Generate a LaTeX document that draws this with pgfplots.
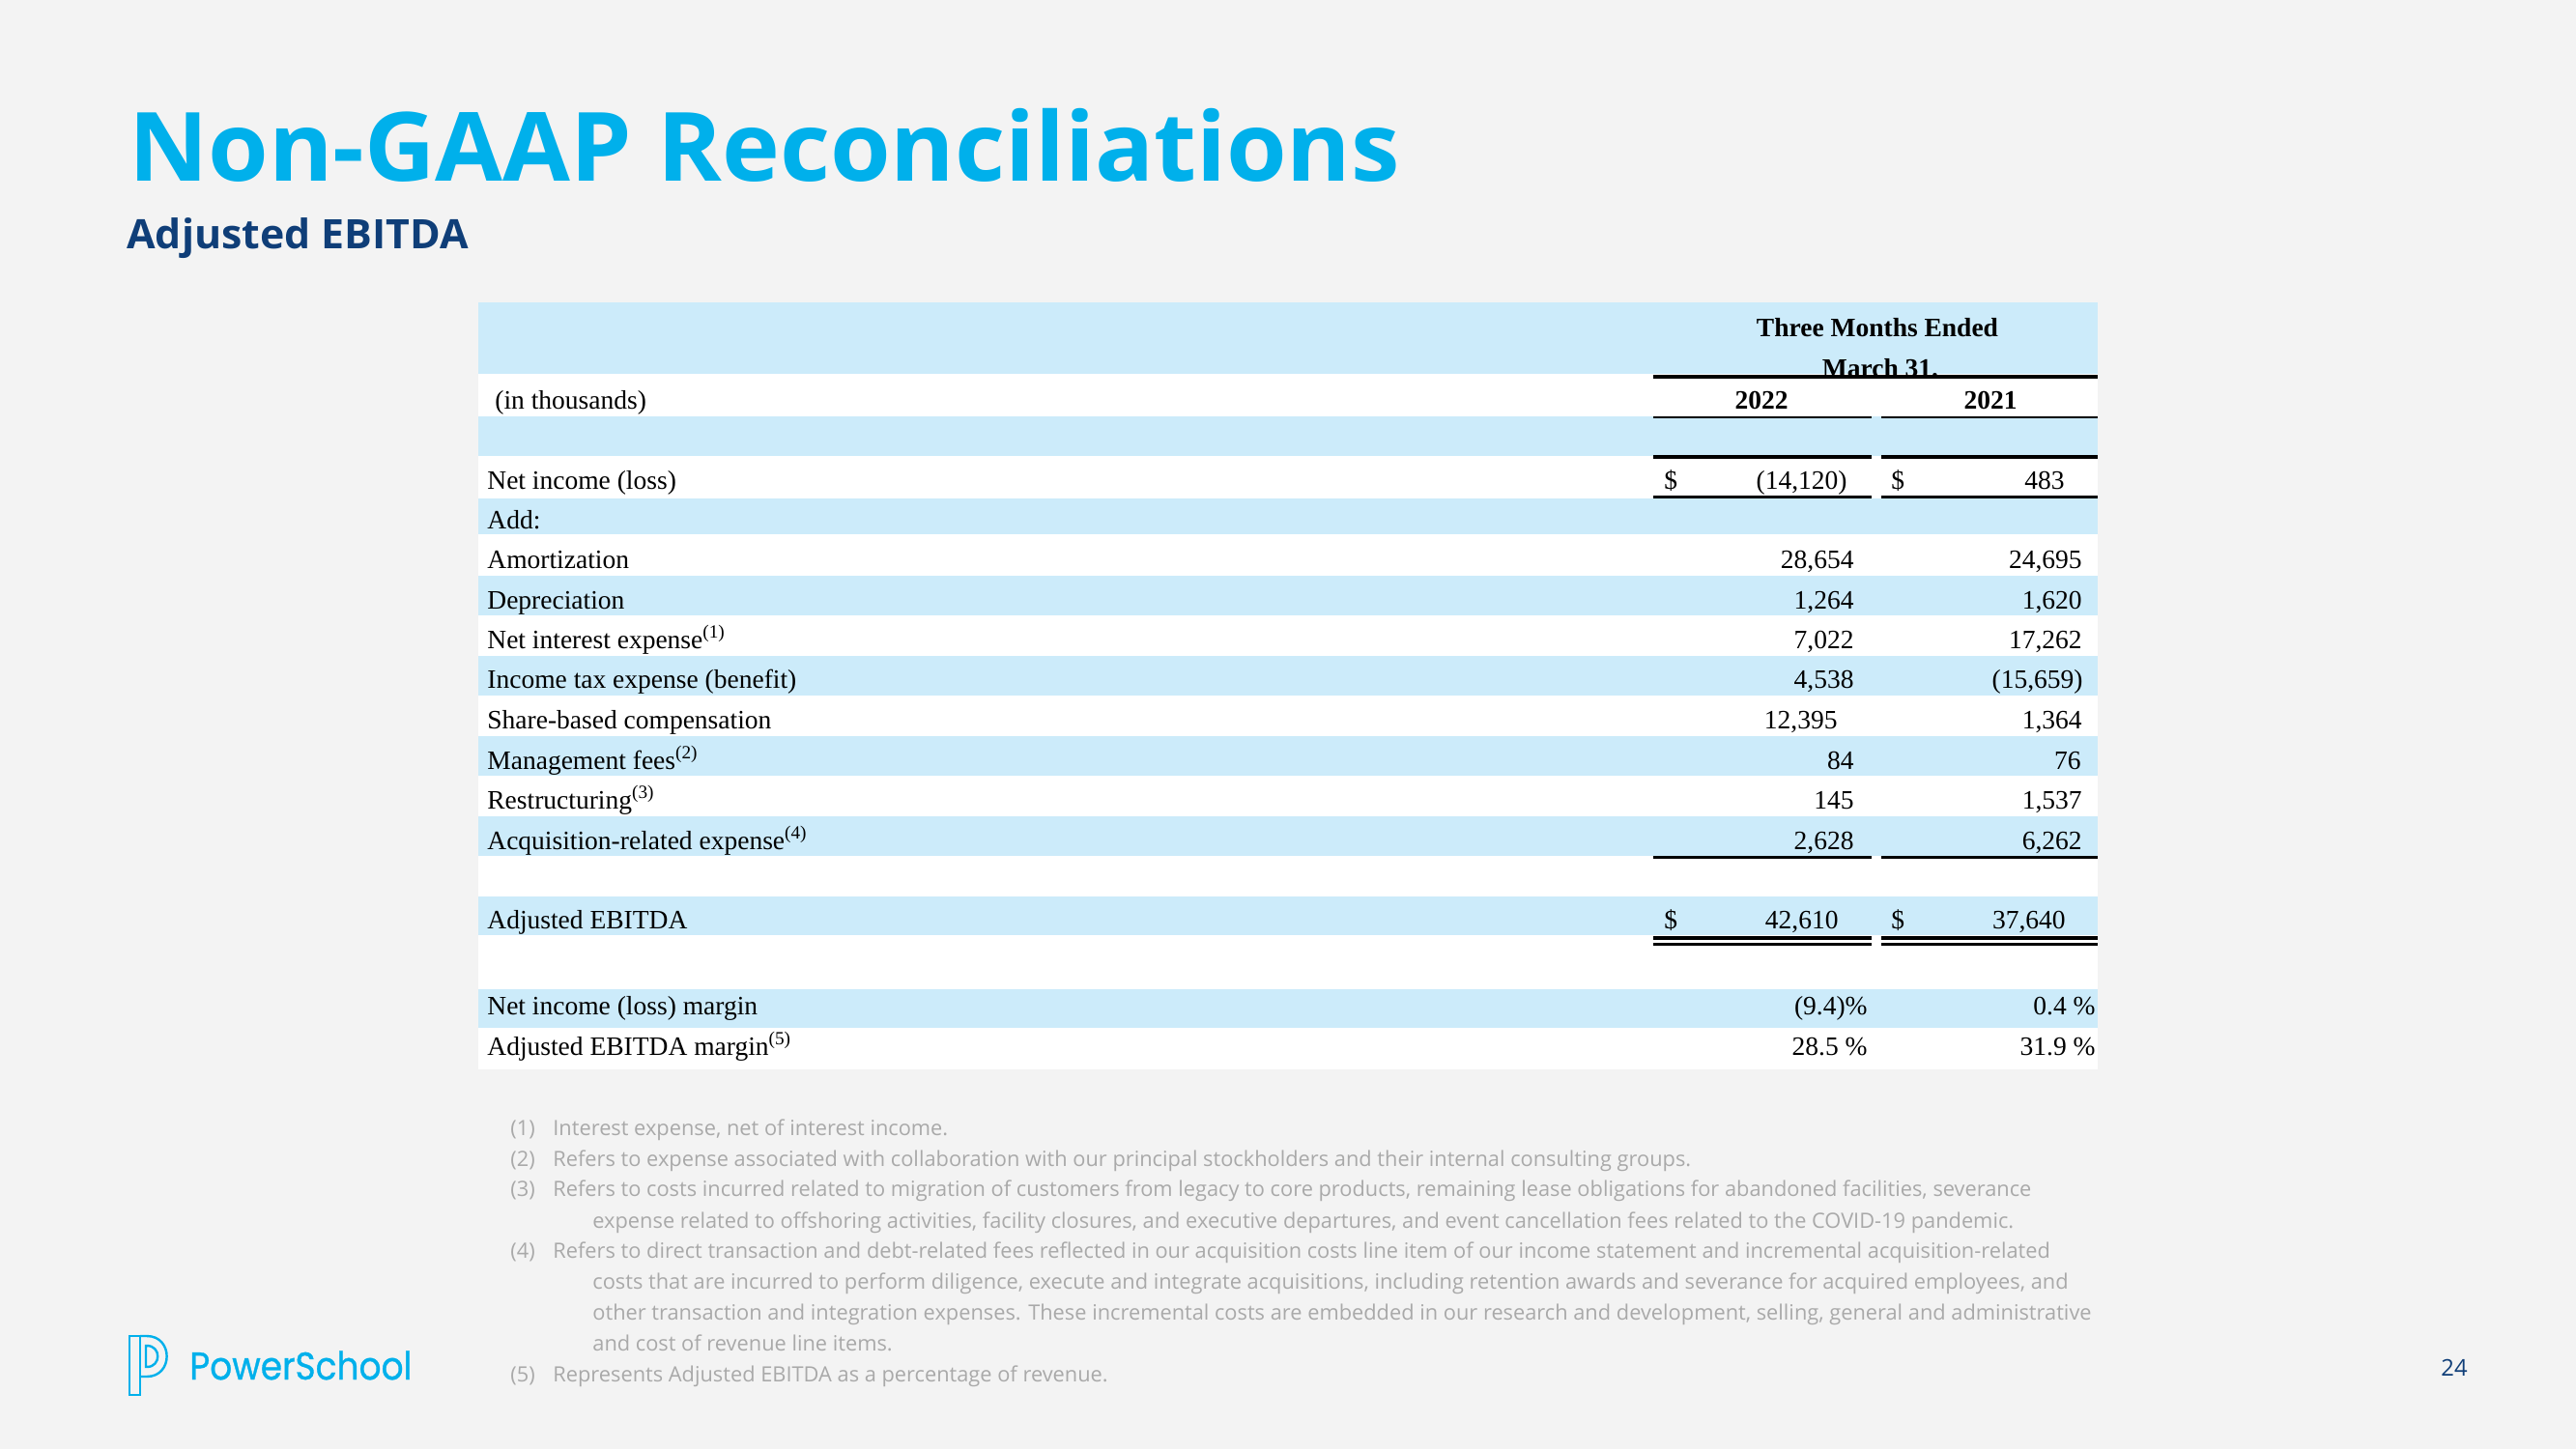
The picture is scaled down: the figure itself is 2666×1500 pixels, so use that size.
\documentclass[border=0pt]{standalone}
\usepackage{pgfplots}
\pgfplotsset{compat=1.18}
\usepackage{fontspec}
\setmainfont{Liberation Serif}
\newfontfamily\osans{Open Sans}
\newfontfamily\popp{Poppins}[FakeBold=0.8]
\definecolor{bg}{HTML}{F3F3F3}
\definecolor{band}{HTML}{CCEBFA}
\definecolor{cyanT}{HTML}{00B0EB}
\definecolor{navy}{HTML}{0F3E78}
\definecolor{fgrey}{HTML}{A9A9A9}
\newcommand{\tabfont}{\fontsize{13.75}{16}\selectfont}
\newcommand{\fnfont}{\osans\fontsize{10.9}{12}\selectfont}
\begin{document}
\begin{tikzpicture}
\begin{axis}[
  width=1333pt, height=750pt, scale only axis,
  xmin=0, xmax=2666, ymin=0, ymax=1500, y dir=reverse,
  hide axis, clip=false]
% background
\fill[bg] (0,0) rectangle (2666,1500);
% table white base
\fill[white] (495,313) rectangle (2171,1107);
% blue bands
\fill[band] (495,313) rectangle (2171,387);
\fill[band] (495,431) rectangle (2171,472);
\fill[band] (495,516) rectangle (2171,553);
\fill[band] (495,596) rectangle (2171,637);
\fill[band] (495,679) rectangle (2171,720);
\fill[band] (495,762) rectangle (2171,803);
\fill[band] (495,845) rectangle (2171,886);
\fill[band] (495,928) rectangle (2171,968);
\fill[band] (495,1024) rectangle (2171,1064);
% title
\node[anchor=base west, inner sep=0pt, xscale=1.023, text=cyanT, font=\osans\bfseries\fontsize{49.5}{50}\selectfont] at (133,187) {Non-GAAP Reconciliations};
\node[anchor=base west, inner sep=0pt, xscale=1.02, text=navy, font=\osans\bfseries\fontsize{21}{22}\selectfont] at (131,257) {Adjusted EBITDA};
% header
\node[anchor=base, inner sep=0pt, font=\tabfont\bfseries] at (1943,348) {Three Months Ended};
\node[anchor=base, inner sep=0pt, font=\tabfont\bfseries] at (1946,390) {March 31.};
\node[anchor=base, inner sep=0pt, font=\tabfont\bfseries] at (1823,423) {2022};
\node[anchor=base, inner sep=0pt, font=\tabfont\bfseries] at (2060,423) {2021};
\node[anchor=base west, inner sep=0pt, font=\tabfont] at (512,423) {(in thousands)};
% rules
\draw[line width=2pt] (1711,390) -- (2171,390);
\draw[line width=1.25pt] (1711,432) -- (1937,432) (1947,432) -- (2171,432);
\draw[line width=1.6pt] (1711,473) -- (1937,473) (1947,473) -- (2171,473);
\draw[line width=1.5pt] (1711,514.5) -- (1937,514.5) (1947,514.5) -- (2171,514.5);
\draw[line width=1.5pt] (1711,887.5) -- (1937,887.5) (1947,887.5) -- (2171,887.5);
\draw[line width=1.6pt] (1711,971) -- (1937,971) (1947,971) -- (2171,971);
\draw[line width=1.4pt] (1711,977.5) -- (1937,977.5) (1947,977.5) -- (2171,977.5);
% row labels
\begin{scope}[every node/.style={anchor=base west, inner sep=0pt, font=\tabfont}]
\node at (504,506) {Net income (loss)};
\node at (504,547) {Add:};
\node at (504,588) {Amortization};
\node at (504,630) {Depreciation};
\node at (504,671) {Net interest expense\textsuperscript{(1)}};
\node at (504,712) {Income tax expense (benefit)};
\node at (504,754) {Share-based compensation};
\node at (504,796) {Management fees\textsuperscript{(2)}};
\node at (504,837) {Restructuring\textsuperscript{(3)}};
\node at (504,879) {Acquisition-related expense\textsuperscript{(4)}};
\node at (504,961) {Adjusted EBITDA};
\node at (504,1050) {Net income (loss) margin};
\node at (504,1092) {Adjusted EBITDA margin\textsuperscript{(5)}};
\end{scope}
% values 2022
\addplot[draw=none, nodes near coords, point meta=explicit symbolic,
  every node near coord/.append style={anchor=base east, inner sep=0pt, font=\tabfont}]
  table[x=x, y=y, meta=v] {
x y v
1912 506 (14,120)
1919 588 28,654
1919 630 1,264
1919 671 7,022
1919 712 4,538
1902 754 12,395
1919 796 84
1919 837 145
1919 879 2,628
1903 961 42,610
1933 1050 (9.4)\%
1933 1092 {28.5 \%}
};
% values 2021
\addplot[draw=none, nodes near coords, point meta=explicit symbolic,
  every node near coord/.append style={anchor=base east, inner sep=0pt, font=\tabfont}]
  table[x=x, y=y, meta=v] {
x y v
2137 506 483
2155 588 24,695
2155 630 1,620
2155 671 17,262
2156 712 (15,659)
2155 754 1,364
2154 796 76
2155 837 1,537
2155 879 6,262
2138 961 37,640
2169 1050 {0.4 \%}
2169 1092 {31.9 \%}
};
% dollar signs
\addplot[draw=none, nodes near coords, point meta=explicit symbolic,
  every node near coord/.append style={anchor=base west, inner sep=0pt, font=\tabfont}]
  table[x=x, y=y, meta=v] {
x y v
1722 506 \$
1957 506 \$
1722 961 \$
1957 961 \$
};
% footnotes
\begin{scope}[every node/.style={anchor=base west, inner sep=0pt, text=fgrey, font=\fnfont}]
\node at (528,1175) {(1)};
\node at (572,1175) {Interest expense, net of interest income.};
\node at (528,1207) {(2)};
\node at (572,1207) {Refers to expense associated with collaboration with our principal stockholders and their internal consulting groups.};
\node at (528,1238) {(3)};
\node at (572,1238) {Refers to costs incurred related to migration of customers from legacy to core products, remaining lease obligations for abandoned facilities, severance};
\node at (613,1271) {expense related to offshoring activities, facility closures, and executive departures, and event cancellation fees related to the COVID-19 pandemic.};
\node at (528,1302) {(4)};
\node at (572,1302) {Refers to direct transaction and debt-related fees reflected in our acquisition costs line item of our income statement and incremental acquisition-related};
\node at (613,1334) {costs that are incurred to perform diligence, execute and integrate acquisitions, including retention awards and severance for acquired employees, and};
\node at (613,1366) {other transaction and integration expenses. These incremental costs are embedded in our research and development, selling, general and administrative};
\node at (613,1398) {and cost of revenue line items.};
\node at (528,1430) {(5)};
\node at (572,1430) {Represents Adjusted EBITDA as a percentage of revenue.};
\end{scope}
% logo
\draw[cyanT, line width=1.2pt] (134,1383) rectangle (145,1444);
\draw[cyanT, line width=1.2pt] (145,1383) -- (152,1383) .. controls (179.5,1383) and (179.5,1425) .. (152,1425) -- (145,1425);
\draw[cyanT, line width=1.2pt] (151,1393) -- (152,1393) .. controls (167,1393) and (167,1415) .. (152,1415) -- (151,1415) -- cycle;
\node[anchor=base west, inner sep=0pt, xscale=0.9, text=cyanT, font=\popp\fontsize{20}{22}\selectfont] at (196,1428) {PowerSchool};
% page number
\node[anchor=base west, inner sep=0pt, text=navy, font=\osans\fontsize{11.9}{13}\selectfont] at (2526,1424) {24};
\end{axis}
\end{tikzpicture}
\end{document}
